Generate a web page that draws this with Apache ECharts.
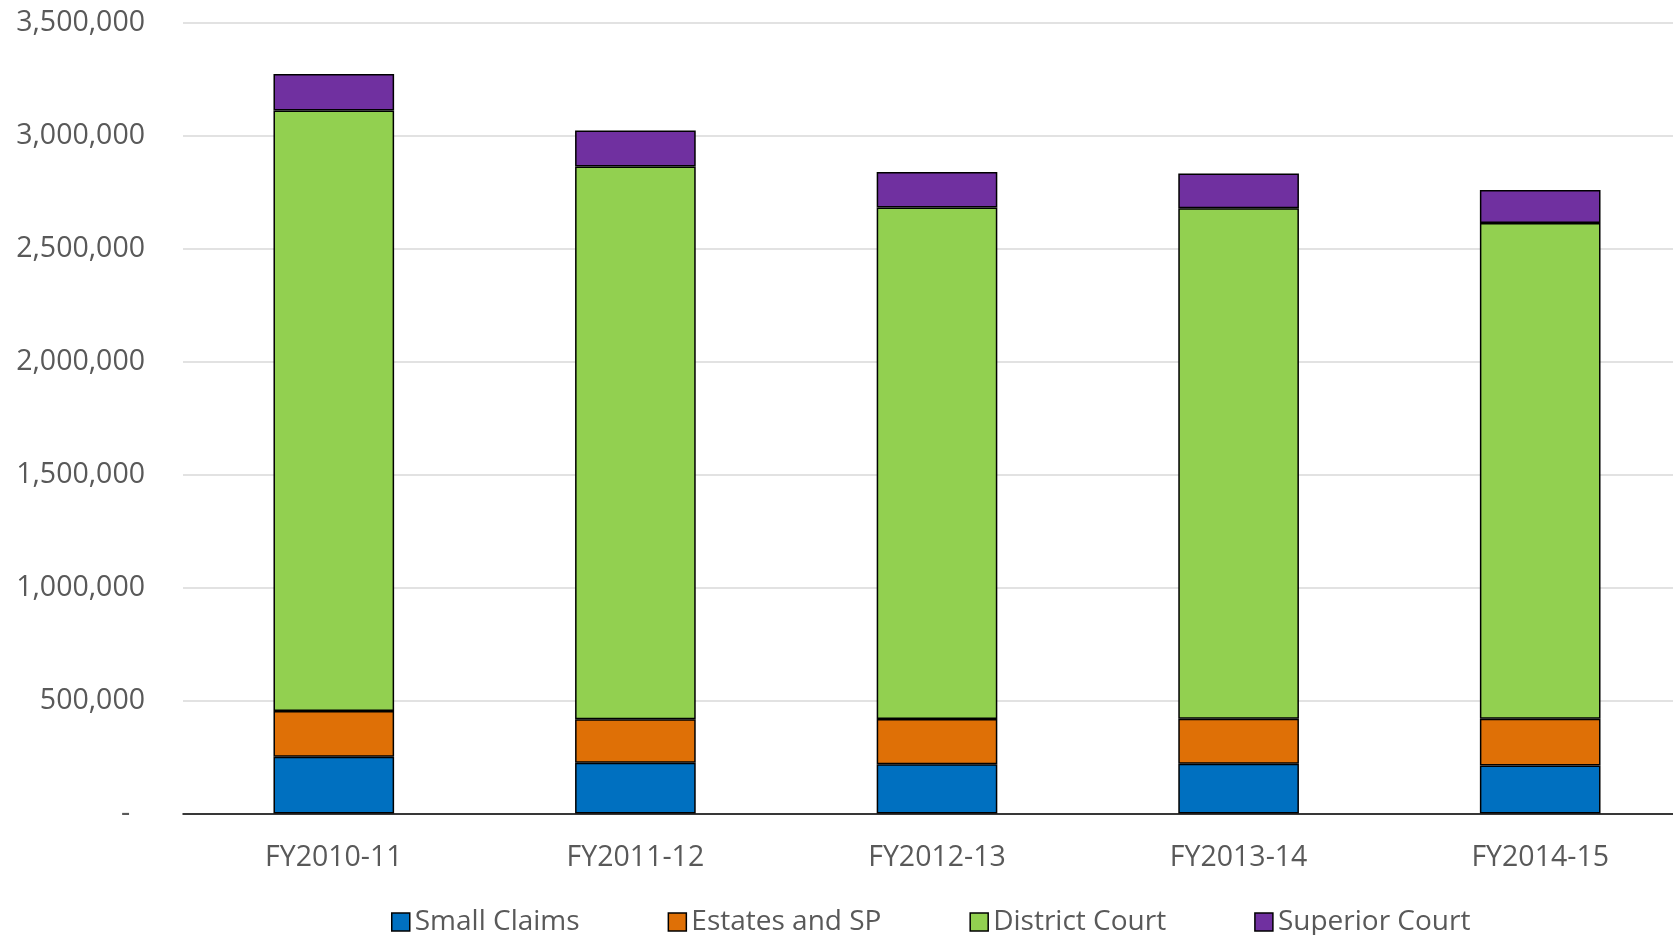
<!DOCTYPE html>
<html>
<head>
<meta charset="utf-8">
<script src="https://cdn.jsdelivr.net/npm/echarts@6/dist/echarts.min.js"></script>
<style>
  html, body { margin: 0; padding: 0; background: #fff; overflow: hidden; }
  /* the original plot area runs a little past the right edge of the picture */
  #chart { width: 1691px; height: 935px; }
</style>
</head>
<body>
<div id="chart"></div>
<script>
const years = ['FY2010-11', 'FY2011-12', 'FY2012-13', 'FY2013-14', 'FY2014-15'];
const smallClaims = [251000, 225000, 218000, 220000, 212000];
const estatesSP = [203000, 192000, 200000, 200000, 208000];
const districtCourt = [2659000, 2448000, 2265000, 2260000, 2195000];
const superiorCourt = [161000, 159000, 157000, 154000, 146000];
const yTicks = { min: 0, max: 3500000, step: 500000 };

const chart = echarts.init(document.getElementById('chart'));
const font = '"Open Sans", "DejaVu Sans", sans-serif';
const textColor = '#595959';

function makeSeries(name, data, color) {
  return {
    name: name,
    type: 'bar',
    stack: 'total',
    barCategoryGap: '60%',
    itemStyle: { color: color, borderColor: '#000', borderWidth: 1.5 },
    data: data
  };
}

const option = {
  animation: false,
  textStyle: { fontFamily: font },
  grid: { left: 183, right: 0, top: 23, bottom: 121.5 },
  legend: {
    left: 386,
    top: 903,
    itemWidth: 18,
    itemHeight: 18,
    itemGap: 88,
    icon: 'rect',
    itemStyle: { borderColor: '#000', borderWidth: 1.5 },
    textStyle: { fontSize: 28, color: textColor, fontFamily: font },
    data: ['Small Claims', 'Estates and SP', 'District Court', 'Superior Court']
  },
  xAxis: {
    type: 'category',
    data: years,
    axisLine: { lineStyle: { color: '#000', width: 1.5 } },
    axisTick: { show: false },
    axisLabel: { fontSize: 28.5, color: textColor, margin: 30, fontFamily: font }
  },
  yAxis: {
    type: 'value',
    min: yTicks.min,
    max: yTicks.max,
    interval: yTicks.step,
    axisLine: { show: false },
    axisTick: { show: false },
    splitLine: { lineStyle: { color: '#d9d9d9', width: 1.5 } },
    axisLabel: {
      fontSize: 28.5,
      color: textColor,
      margin: 38,
      fontFamily: font,
      formatter: function (v) {
        if (v === 0) return '-  ';
        return v.toLocaleString('en-US');
      }
    }
  },
  series: [
    makeSeries('Small Claims', smallClaims, '#0070C0'),
    makeSeries('Estates and SP', estatesSP, '#DF7006'),
    makeSeries('District Court', districtCourt, '#92D050'),
    makeSeries('Superior Court', superiorCourt, '#7030A0')
  ]
};

chart.setOption(option);
</script>
</body>
</html>
